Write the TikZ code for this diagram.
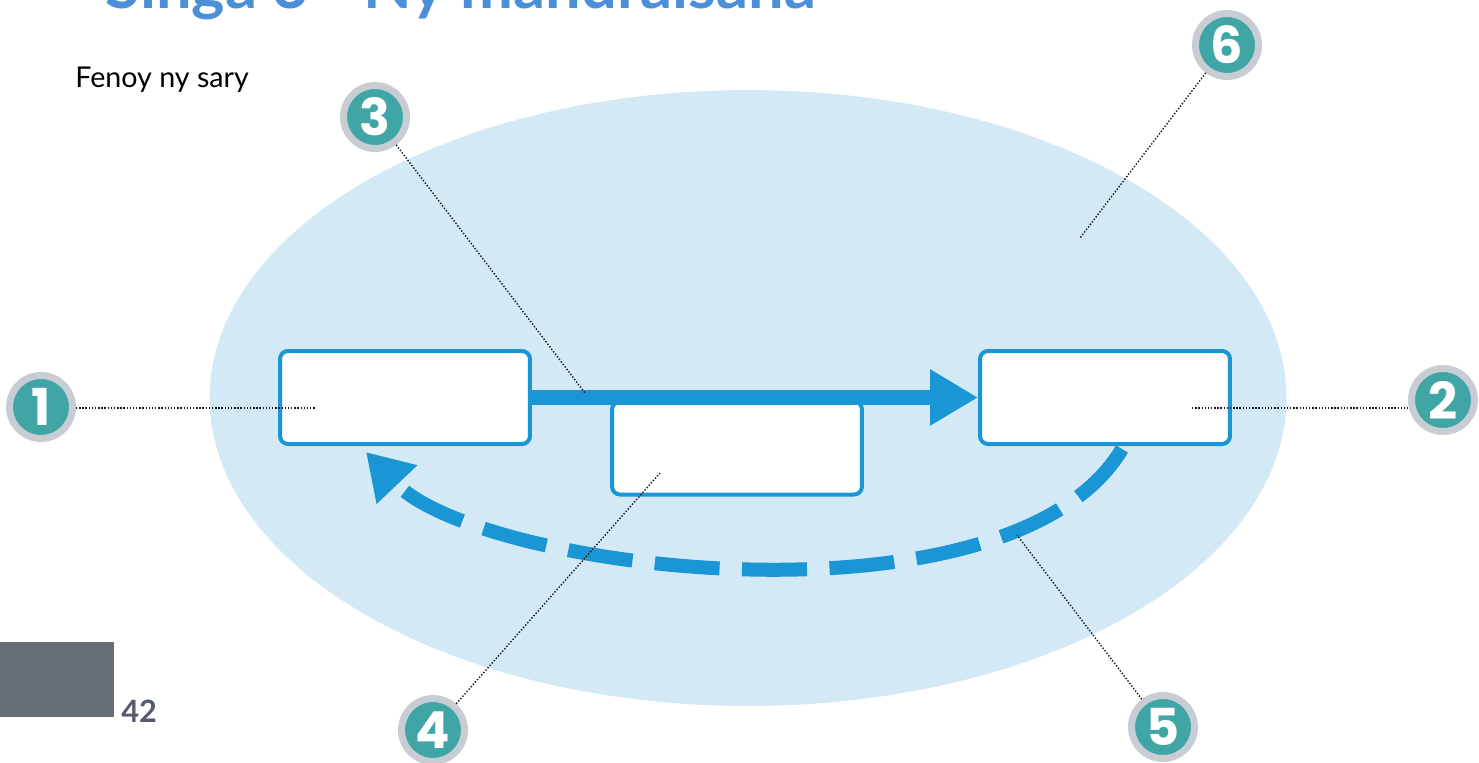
\documentclass[tikz,border=0pt]{standalone}
\usepackage{fontspec}
\setmainfont{Lato}
\newfontfamily\badgefont{Poppins}
\usetikzlibrary{arrows.meta}
\usetikzlibrary{positioning}
\usetikzlibrary{shapes.geometric}

\definecolor{fieldblue}{HTML}{D4E9F6}
\definecolor{linkblue}{HTML}{1A96D5}
\definecolor{badgeteal}{HTML}{3FA6A5}
\definecolor{badgering}{HTML}{C8CDD3}
\definecolor{titleblue}{HTML}{4A8FD8}
\definecolor{pagegray}{HTML}{686E76}
\definecolor{pagenum}{HTML}{545B6E}

\tikzset{
    stagebox/.style={
        rectangle, rounded corners=0.16cm,
        minimum width=5.0cm, minimum height=1.86cm,
        draw=linkblue, line width=0.08cm,
        fill=white,
    },
    badge/.style={
        circle, inner sep=0pt, minimum size=1.26cm,
        draw=badgering, line width=0.14cm,
        fill=badgeteal, text=white,
        font=\badgefont\bfseries\fontsize{29}{29}\selectfont,
    },
    leader/.style={draw=black!90, densely dotted, line width=0.8pt},
}

\begin{document}
\begin{tikzpicture}[x=0.02cm, y=-0.02cm]
        \useasboundingbox (0,0) rectangle (1479,762);

        \node (title) at(105,8) [
            anchor=base west, inner sep=0pt,
            font=\bfseries\fontsize{36}{36}\selectfont,
            text=titleblue,
        ] {Singa 3 - Ny mandraisana};
        \node (hint) at(75,87) [
            anchor=base west, inner sep=0pt,
            font=\fontsize{16.3}{19}\selectfont,
        ] {Fenoy ny sary};

        \node (context) at(748,398) [
            ellipse, inner sep=0pt,
            minimum width=21.54cm, minimum height=12.32cm,
            fill=fieldblue,
        ] {};

        \node (box1) at(405,397.5) [stagebox] {};
        \node (box4) at(737,448) [stagebox] {};
        \node (box2) at(1105,397.5) [stagebox] {};

        \draw[linkblue, line width=0.3cm, -{Triangle[length=0.96cm, width=1.06cm]}]
            (box1.east) -- (box2.west);

        \coordinate (fbstart) at(1122,449);
        \coordinate (fbtip) at(366,452);
        \draw[linkblue, line width=0.28cm, dash pattern=on 1.3cm off 0.45cm,
            -{Triangle[length=0.9cm, width=1.06cm]}]
            (fbstart) .. controls (1010,636) and (480,572) .. (fbtip);

        \node (b1) at(41,407) [badge] {1};
        \node (b2) at(1443,400) [badge] {2};
        \node (b3) at(375,117) [badge] {3};
        \node (b4) at(433,730) [badge] {4};
        \node (b5) at(1163,727) [badge] {5};
        \node (b6) at(1227,45) [badge] {6};

        \coordinate (e1) at(315,408);
        \coordinate (e2) at(1192,408);
        \coordinate (e3) at(585,393);
        \coordinate (e4) at(660,473);
        \coordinate (e5) at(1017,535);
        \coordinate (e6) at(1080,238);
        \draw[leader] (b1.east |- e1) -- (e1);
        \draw[leader] (e2) -- (e2 -| b2.west);
        \draw[leader] (b3) -- (e3);
        \draw[leader] (b4) -- (e4);
        \draw[leader] (b5) -- (e5);
        \draw[leader] (b6) -- (e6);

        \node (pagebar) at(0,642) [
            rectangle, anchor=north west, inner sep=0pt,
            minimum width=2.28cm, minimum height=1.5cm,
            fill=pagegray,
        ] {};
        \node (pageno) at(121,722) [
            anchor=base west, inner sep=0pt,
            font=\bfseries\fontsize{17.5}{20}\selectfont,
            text=pagenum,
        ] {42};
    \end{tikzpicture}
\end{document}
